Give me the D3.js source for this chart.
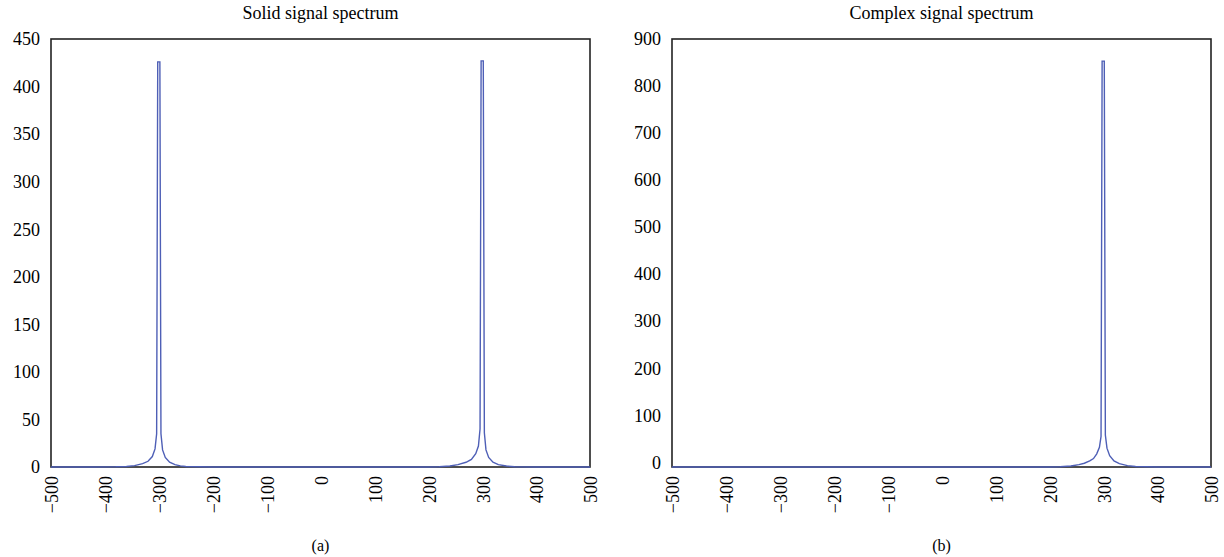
<!DOCTYPE html>
<html>
<head>
<meta charset="utf-8">
<script src="https://cdn.jsdelivr.net/npm/d3@7"></script>
<style>
  body { margin: 0; background: #fff; }
  svg { display: block; }
  text { font-family: "Liberation Serif", "DejaVu Serif", serif; fill: #000; }
</style>
</head>
<body>
<svg id="chart" width="1224" height="557"></svg>
<script>
// spectrum (frequency / amplitude pairs)
var solidFreq = [-500, -420, -380, -360, -345, -330, -320, -312, -307, -304, -302, -298, -296, -293, -288, -280, -270, -260, -250, -200,
                 200, 220, 240, 255, 270, 280, 288, 293, 296, 298, 302, 304, 307, 312, 320, 330, 345, 360, 400, 500];
var solidAmp  = [0, 0, 0.2, 0.6, 1.5, 3.5, 6, 11, 19, 35, 426, 426, 35, 18, 10, 5, 2.5, 1.2, 0.5, 0,
                 0, 0.3, 1, 2.5, 5, 8, 14, 22, 40, 427, 427, 36, 18, 10, 5, 2.5, 1, 0.3, 0, 0];

var complexFreq = [-500, -200, 200, 220, 240, 255, 265, 275, 282, 288, 293, 296, 298, 302, 304, 307, 312, 320, 330, 345, 360, 400, 500];
var complexAmp  = [-10, -10, -10, -9.5, -8, -5, -2, 3, 8, 18, 32, 55, 853, 853, 58, 30, 14, 3, -3, -7, -9, -10, -10];

var xTicks = d3.range(-500, 501, 100);
var solidTicks = d3.range(0, 451, 50);
var complexTicks = d3.range(0, 901, 100);

var svg = d3.select('#chart');

function fmt(d) { return d < 0 ? '\u2212' + Math.abs(d) : String(d); }

function drawPanel(p) {
    var x = d3.scaleLinear().domain([-500, 500]).range([p.left, p.right]);
    var y = d3.scaleLinear().domain(p.yDomain).range([p.bottom, p.top]);
    var g = svg.append('g');

    // title
    g.append('text')
        .attr('x', (p.left + p.right) / 2)
        .attr('y', 19)
        .attr('text-anchor', 'middle')
        .style('font-size', '18px')
        .text(p.title);

    // y labels
    g.selectAll('.ylab')
        .data(p.yTicks)
        .enter()
        .append('text')
        .attr('class', 'ylab')
        .attr('x', p.left - 11)
        .attr('y', d => y(d))
        .attr('dy', '0.35em')
        .attr('text-anchor', 'end')
        .style('font-size', '18px')
        .text(d => d);

    // x labels, rotated
    g.selectAll('.xlab')
        .data(xTicks)
        .enter()
        .append('text')
        .attr('class', 'xlab')
        .attr('transform', d => 'translate(' + (x(d) + 1) + ',' + (p.bottom + 9) + ') rotate(-90)')
        .attr('dy', '0.35em')
        .attr('text-anchor', 'end')
        .style('font-size', '18px')
        .text(fmt);

    // frame
    g.append('rect')
        .attr('x', p.left)
        .attr('y', p.top)
        .attr('width', p.right - p.left)
        .attr('height', p.bottom - p.top)
        .attr('fill', 'none')
        .attr('stroke', '#222')
        .attr('stroke-width', 1.6);

    var line = d3.line()
        .x((d, i) => x(p.freq[i]))
        .y(d => y(d));

    g.append('path')
        .datum(p.amp)
        .attr('d', line)
        .attr('fill', 'none')
        .attr('stroke', '#4e5fb6')
        .attr('stroke-width', 1.4);

    g.append('text')
        .attr('x', (p.left + p.right) / 2)
        .attr('y', 551)
        .attr('text-anchor', 'middle')
        .style('font-size', '16px')
        .text(p.caption);
}

drawPanel({
    title: 'Solid signal spectrum', caption: '(a)',
    left: 51, right: 590, top: 39, bottom: 467,
    yDomain: [0, 450], yTicks: solidTicks,
    freq: solidFreq, amp: solidAmp
});

drawPanel({
    title: 'Complex signal spectrum', caption: '(b)',
    left: 672, right: 1211, top: 39, bottom: 467,
    yDomain: [-10, 900], yTicks: complexTicks,
    freq: complexFreq, amp: complexAmp
});
</script>
</body>
</html>
